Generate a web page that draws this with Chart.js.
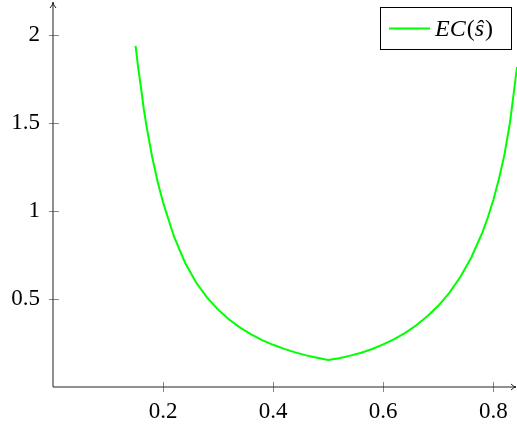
<!DOCTYPE html>
<html>
<head>
<meta charset="utf-8">
<script src="https://cdn.jsdelivr.net/npm/chart.js@4.4.0/dist/chart.umd.min.js"></script>
<style>
  html, body { margin: 0; padding: 0; background: #fff; }
  #wrap { width: 517px; height: 428px; }
</style>
</head>
<body>
<div id="wrap"><canvas id="ec-chart"></canvas></div>
<script>
// values
const sValues = [0.15, 0.155, 0.16, 0.165, 0.17, 0.18, 0.19, 0.20, 0.21, 0.22, 0.23, 0.24, 0.26, 0.28, 0.30, 0.32, 0.34, 0.36, 0.38, 0.40,
                 0.42, 0.44, 0.46, 0.48, 0.50, 0.52, 0.54, 0.56, 0.58, 0.60, 0.62, 0.64, 0.66, 0.68, 0.70, 0.72, 0.74, 0.76, 0.78,
                 0.79, 0.80, 0.81, 0.82, 0.83, 0.835, 0.843];
const ecValues = [1.94, 1.81, 1.70, 1.58, 1.481, 1.311, 1.169, 1.050, 0.951, 0.855, 0.780, 0.707, 0.594, 0.508, 0.440, 0.384, 0.338, 0.299, 0.267, 0.240,
                  0.217, 0.197, 0.180, 0.166, 0.153, 0.164, 0.1785, 0.195, 0.216, 0.242, 0.272, 0.308, 0.351, 0.402, 0.462, 0.536, 0.626, 0.737, 0.878,
                  0.964, 1.064, 1.182, 1.319, 1.499, 1.62, 1.82];
const xTicks = [0.2, 0.4, 0.6, 0.8];
const yTicks = [0.5, 1, 1.5, 2];
const seriesLabel = "EC(ŝ)";

const points = sValues.map((s, i) => ({ x: s, y: ecValues[i] }));
const FONT = "'Liberation Serif', 'DejaVu Serif', serif";

// axis lines with arrows, crossing tick marks and the boxed legend
const pgfAxes = {
  id: "pgfAxes",
  afterDraw(chart) {
    const ctx = chart.ctx;
    const xs = chart.scales.x, ys = chart.scales.y;
    const x0 = xs.getPixelForValue(xs.min), x1 = xs.getPixelForValue(xs.max);
    const y0 = ys.getPixelForValue(ys.min), y1 = ys.getPixelForValue(ys.max);
    ctx.save();
    ctx.lineWidth = 1;

    // ticks
    ctx.strokeStyle = "#888";
    xTicks.forEach(v => {
      const px = Math.round(xs.getPixelForValue(v)) + 0.5;
      ctx.beginPath(); ctx.moveTo(px, y0 - 5); ctx.lineTo(px, y0 + 5); ctx.stroke();
    });
    yTicks.forEach(v => {
      const py = Math.round(ys.getPixelForValue(v)) + 0.5;
      ctx.beginPath(); ctx.moveTo(x0 - 4, py); ctx.lineTo(x0 + 6, py); ctx.stroke();
    });

    // axes
    ctx.strokeStyle = "#222";
    ctx.beginPath(); ctx.moveTo(x0, y0); ctx.lineTo(x0, y1 + 1); ctx.stroke();
    ctx.beginPath(); ctx.moveTo(x0, y0); ctx.lineTo(x1 - 1, y0); ctx.stroke();
    ctx.beginPath();
    ctx.moveTo(x0 - 3, y1 + 6); ctx.quadraticCurveTo(x0, y1 + 3, x0, y1); ctx.quadraticCurveTo(x0, y1 + 3, x0 + 3, y1 + 6);
    ctx.stroke();
    ctx.beginPath();
    ctx.moveTo(x1 - 6, y0 - 3); ctx.quadraticCurveTo(x1 - 3, y0, x1 - 1, y0); ctx.quadraticCurveTo(x1 - 3, y0, x1 - 6, y0 + 3);
    ctx.stroke();

    // legend
    const bx = 380.5, by = 7.5, bw = 131, bh = 42;
    ctx.fillStyle = "#fff";
    ctx.fillRect(bx, by, bw, bh);
    ctx.strokeStyle = "#000";
    ctx.strokeRect(bx, by, bw, bh);
    ctx.strokeStyle = chart.data.datasets[0].borderColor;
    ctx.lineWidth = 2;
    ctx.beginPath(); ctx.moveTo(389, 28.5); ctx.lineTo(430, 28.5); ctx.stroke();

    ctx.fillStyle = "#000";
    ctx.textBaseline = "alphabetic";
    const label = chart.data.datasets[0].label;   // "EC(ŝ)"
    const parts = [
      [label.slice(0, 2), "italic"],
      [label.slice(2, 3), "normal"],
      [label.slice(3, 4), "italic"],
      [label.slice(4), "normal"]
    ];
    let tx = 435;
    parts.forEach(([txt, style]) => {
      ctx.font = style + " 24px " + FONT;
      ctx.fillText(txt, tx, 36);
      tx += ctx.measureText(txt).width + (style === "italic" ? 1 : 0);
    });
    ctx.restore();
  }
};

new Chart(document.getElementById("ec-chart"), {
  type: "line",
  data: {
    datasets: [{
      label: seriesLabel,
      data: points,
      borderColor: "#00ff00",
      borderWidth: 2,
      pointRadius: 0,
      tension: 0,
      fill: false
    }]
  },
  options: {
    responsive: true,
    maintainAspectRatio: false,
    animation: false,
    layout: { padding: { top: 2, right: 0, left: 0, bottom: 0 } },
    plugins: { legend: { display: false }, tooltip: { enabled: false } },
    scales: {
      x: {
        type: "linear",
        min: 0,
        max: 0.843,
        grid: { display: false, drawTicks: false },
        border: { display: false },
        afterBuildTicks: scale => { scale.ticks = xTicks.map(v => ({ value: v })); },
        afterFit: scale => {
          scale.height = 41;
          scale.paddingLeft = 0; scale.paddingRight = 0;
        },
        ticks: {
          color: "#000",
          padding: 11,
          maxRotation: 0,
          font: { family: FONT, size: 23 },
          callback: v => String(v)
        }
      },
      y: {
        type: "linear",
        min: 0,
        max: 2.19,
        grid: { display: false, drawTicks: false },
        border: { display: false },
        afterBuildTicks: scale => { scale.ticks = yTicks.map(v => ({ value: v })); },
        afterFit: scale => {
          scale.width = 53;
          scale.paddingTop = 0; scale.paddingBottom = 0;
        },
        ticks: {
          color: "#000",
          padding: 13,
          font: { family: FONT, size: 23 },
          callback: v => String(v)
        }
      }
    }
  },
  plugins: [pgfAxes]
});
</script>
</body>
</html>
